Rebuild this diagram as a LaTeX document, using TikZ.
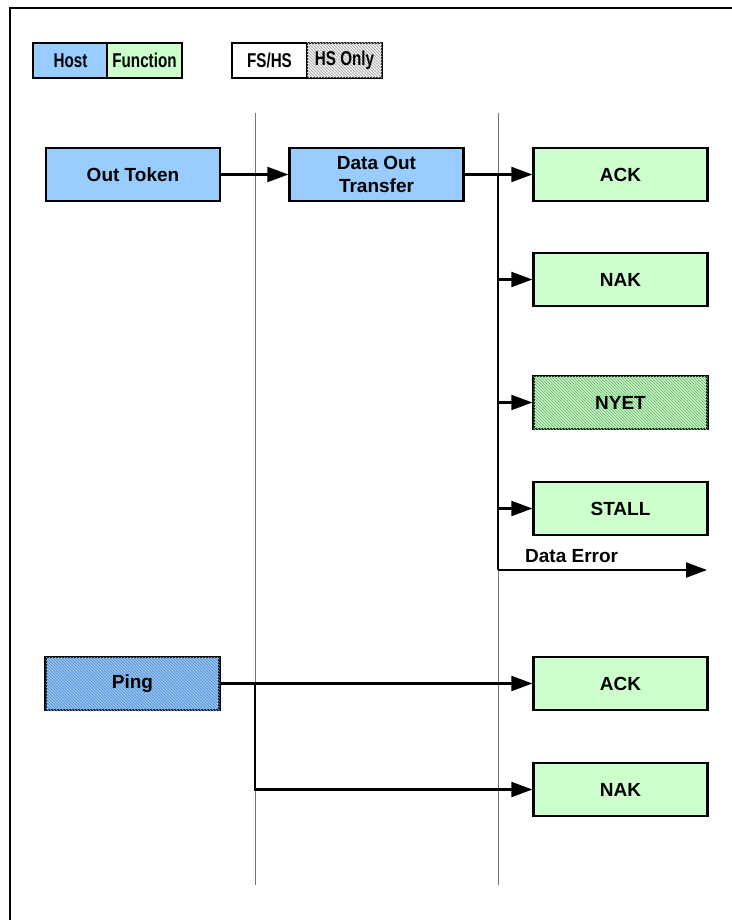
\documentclass[tikz,border=0pt]{standalone}
\usepackage{fontspec}
\setmainfont{Liberation Sans}
\newfontfamily\legendfont[FakeStretch=0.76]{Liberation Sans}
\usetikzlibrary{arrows.meta,patterns}
\definecolor{hostblue}{RGB}{153,204,255}
\definecolor{fngreen}{RGB}{204,255,204}
\definecolor{hatchgreen}{RGB}{130,190,130}
\definecolor{hatchblue}{RGB}{100,150,205}
\definecolor{hatchgray}{RGB}{175,175,175}
\pgfdeclarepatternformonly{nwthick}{\pgfqpoint{-1pt}{-1pt}}{\pgfqpoint{4pt}{4pt}}{\pgfqpoint{3pt}{3pt}}{%
  \pgfsetlinewidth{0.8pt}%
  \pgfpathmoveto{\pgfqpoint{0pt}{3pt}}%
  \pgfpathlineto{\pgfqpoint{3.1pt}{-0.1pt}}%
  \pgfusepath{stroke}%
}
\tikzset{
  box/.style={draw, line width=2.3pt, minimum width=174pt, minimum height=53pt,
    inner sep=0pt, align=center, font=\fontsize{19}{22.5}\selectfont\bfseries},
  legbox/.style={draw, line width=2.3pt, minimum width=75pt, minimum height=35pt,
    inner sep=0pt, font=\fontsize{20}{22}\selectfont\legendfont\bfseries},
  host/.style={fill=hostblue},
  func/.style={fill=fngreen},
  hatched/.style={postaction={pattern=nwthick, pattern color=#1}},
  conn/.style={line width=2.1pt},
  arr/.style={line width=2.1pt, -{Triangle[length=21pt,width=15pt]}},
  life/.style={line width=0.9pt, draw=black!55},
}
\begin{document}
\begin{tikzpicture}[x=1pt,y=-1pt]
\useasboundingbox (0,0) rectangle (731,920);
% frame
\draw[line width=2.3pt] (10,921) -- (10,8) -- (732,8);
% lifelines
\coordinate (l1t) at (255,113); \coordinate (l1b) at (255,885);
\coordinate (l2t) at (498,113); \coordinate (l2b) at (498,885);
\draw[life] (l1t) -- (l1b);
\draw[life] (l2t) -- (l2b);
% legend
\node[legbox, host] (lhost) at (70.5,60.5) {Host};
\node[legbox, func] (lfunc) at (144.5,60.5) {Function};
\node[legbox, fill=white] (lfs) at (269.5,60.5) {FS/HS};
\node[legbox, fill=white, hatched=hatchgray] (lhs) at (344.5,60.5) {};
\node[legbox, draw=none] (lhstext) at (344.5,60.5) {HS Only};
% main boxes
\node[box, host] (outtok) at (133,174.5) {Out Token};
\node[box, host] (dataout) at (376.5,174.5) {Data Out\\Transfer};
\node[box, func] (ack1) at (620.5,174.5) {ACK};
\node[box, func] (nak1) at (620.5,279.5) {NAK};
\node[box, func, hatched=hatchgreen] (nyet) at (620.5,402.5) {};
\node[box, draw=none] (nyettext) at (620.5,402.5) {NYET};
\node[box, func] (stall) at (620.5,508.5) {STALL};
\node[box, host, hatched=hatchblue] (ping) at (132.5,683.5) {};
\node[box, draw=none] (pingtext) at (132.5,683.5) {Ping};
\node[box, func] (ack2) at (620.5,683.5) {ACK};
\node[box, func] (nak2) at (620.5,789.5) {NAK};
% connectors
\draw[arr] (outtok.east) -- (dataout.west);
\coordinate (jtop) at (498,174.5);
\coordinate (jbot) at (498,570);
\coordinate (errend) at (707,570);
\draw[conn] (dataout.east) -- (jtop) -- (jbot);
\draw[arr] (jtop) -- (ack1.west);
\draw[arr] (nak1.west -| jtop) -- (nak1.west);
\draw[arr] (nyet.west -| jtop) -- (nyet.west);
\draw[arr] (stall.west -| jtop) -- (stall.west);
\draw[arr] (jbot) -- (errend);
\node[anchor=base west, font=\fontsize{19}{21}\selectfont\bfseries, inner sep=0pt] (errlbl) at (525,562) {Data Error};
\draw[arr] (ping.east) -- (ack2.west);
\draw[arr] (ping.east -| l1t) |- (nak2.west);
\end{tikzpicture}
\end{document}
